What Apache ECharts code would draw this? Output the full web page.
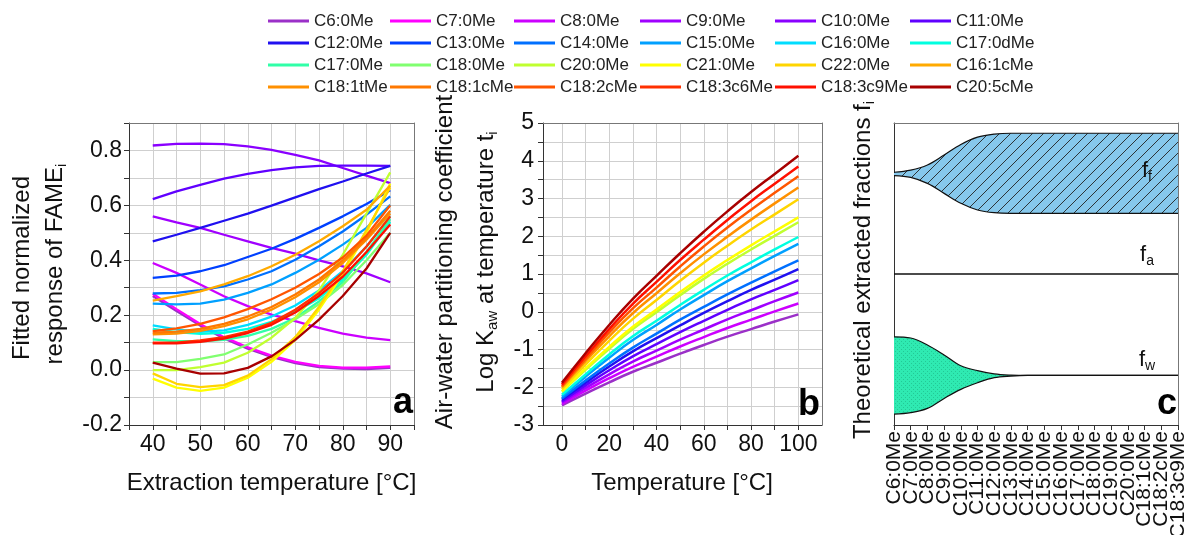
<!DOCTYPE html>
<html><head><meta charset="utf-8">
<script src="https://cdn.jsdelivr.net/npm/echarts@6/dist/echarts.min.js"></script>
<style>html,body{margin:0;padding:0;background:#fff}#c{width:1186px;height:535px}</style>
</head><body><div id="c"></div><script>
// ---------- data ----------
const names = ['C6:0Me','C7:0Me','C8:0Me','C9:0Me','C10:0Me','C11:0Me',
  'C12:0Me','C13:0Me','C14:0Me','C15:0Me','C16:0Me','C17:0dMe',
  'C17:0Me','C18:0Me','C20:0Me','C21:0Me','C22:0Me','C16:1cMe',
  'C18:1tMe','C18:1cMe','C18:2cMe','C18:3c6Me','C18:3c9Me','C20:5cMe'];
const colors = ['#9B30C8','#FF00FF','#CC00FF','#A000FF','#8A00FF','#6000FF',
  '#2010F0','#0040FF','#0070FF','#00A0FF','#00DDFF','#00FFE0',
  '#30FFA8','#80FF70','#C0FF30','#FFFF00','#FFD500','#FFAA00',
  '#FF9000','#FF7800','#FF5500','#FF3000','#FF1000','#A80000'];

// panel a: extraction temperature (°C)
const tempA = [40,45,50,55,60,65,70,75,80,85,90];
const A_C6   = [0.270,0.215,0.162,0.115,0.078,0.048,0.025,0.011,0.005,0.004,0.008];
const A_C7   = [0.278,0.222,0.168,0.120,0.083,0.053,0.030,0.015,0.009,0.009,0.013];
const A_C8   = [0.390,0.354,0.312,0.269,0.233,0.202,0.178,0.154,0.133,0.118,0.109];
const A_C9   = [0.560,0.538,0.518,0.493,0.469,0.445,0.424,0.400,0.378,0.352,0.320];
const A_C10  = [0.818,0.824,0.825,0.823,0.815,0.802,0.784,0.764,0.736,0.708,0.681];
const A_C11  = [0.623,0.651,0.675,0.697,0.715,0.728,0.738,0.744,0.745,0.745,0.744];
const A_C12  = [0.469,0.493,0.518,0.544,0.570,0.599,0.629,0.659,0.687,0.716,0.744];
const A_C13  = [0.336,0.344,0.360,0.382,0.412,0.442,0.478,0.518,0.560,0.605,0.655];
const A_C14  = [0.279,0.281,0.291,0.305,0.330,0.360,0.402,0.451,0.505,0.566,0.633];
const A_C15  = [0.242,0.239,0.242,0.257,0.281,0.312,0.354,0.402,0.457,0.518,0.602];
const A_C16  = [0.163,0.148,0.139,0.145,0.165,0.195,0.235,0.290,0.360,0.450,0.560];
const A_C17d = [0.150,0.138,0.132,0.136,0.150,0.176,0.212,0.262,0.330,0.420,0.540];
const A_C17  = [0.112,0.105,0.105,0.110,0.125,0.150,0.190,0.250,0.320,0.430,0.550];
const A_C18  = [0.029,0.029,0.041,0.057,0.093,0.136,0.185,0.240,0.310,0.400,0.500];
const A_C20  = [0.000,0.000,0.011,0.027,0.063,0.118,0.190,0.290,0.420,0.570,0.720];
const A_C21  = [-0.031,-0.064,-0.076,-0.064,-0.028,0.030,0.110,0.220,0.350,0.500,0.680];
const A_C22  = [-0.012,-0.050,-0.062,-0.055,-0.020,0.040,0.120,0.230,0.360,0.510,0.665];
const A_C161c = [0.253,0.269,0.287,0.312,0.342,0.378,0.420,0.469,0.524,0.584,0.672];
const A_C181t = [0.130,0.133,0.143,0.160,0.185,0.220,0.265,0.320,0.390,0.475,0.570];
const A_C181c = [0.136,0.140,0.150,0.168,0.195,0.230,0.275,0.330,0.400,0.480,0.580];
const A_C182c = [0.142,0.152,0.168,0.192,0.222,0.258,0.300,0.350,0.410,0.490,0.600];
const A_C183c6 = [0.100,0.100,0.108,0.120,0.140,0.172,0.220,0.280,0.355,0.450,0.560];
const A_C183c9 = [0.097,0.097,0.103,0.115,0.135,0.165,0.210,0.270,0.340,0.430,0.530];
const A_C205c = [0.027,0.005,-0.013,-0.012,0.008,0.050,0.110,0.184,0.270,0.370,0.500];
const respA = [A_C6,A_C7,A_C8,A_C9,A_C10,A_C11,A_C12,A_C13,A_C14,A_C15,A_C16,A_C17d,
  A_C17,A_C18,A_C20,A_C21,A_C22,A_C161c,A_C181t,A_C181c,A_C182c,A_C183c6,A_C183c9,A_C205c];
const ticksAx = [40,50,60,70,80,90];
const ticksAy = [-0.2,0,0.2,0.4,0.6,0.8];

// panel b: temperature (°C) vs log Kaw
const tempB = [0,10,20,30,40,50,60,70,80,90,100];
const B_C6    = [-2.48,-2.17,-1.87,-1.59,-1.35,-1.11,-0.88,-0.66,-0.46,-0.26,-0.07];
const B_C8    = [-2.44,-2.09,-1.76,-1.46,-1.19,-0.92,-0.67,-0.43,-0.21,0.01,0.22];
const B_C9    = [-2.40,-2.02,-1.66,-1.32,-1.03,-0.74,-0.47,-0.20,0.04,0.28,0.51];
const B_C11   = [-2.37,-1.95,-1.55,-1.18,-0.86,-0.54,-0.24,0.05,0.33,0.58,0.84];
const B_C12   = [-2.33,-1.88,-1.45,-1.05,-0.70,-0.36,-0.03,0.28,0.58,0.85,1.13];
const B_C14   = [-2.30,-1.82,-1.37,-0.95,-0.58,-0.21,0.13,0.46,0.77,1.07,1.36];
const B_C15   = [-2.25,-1.72,-1.22,-0.75,-0.35,0.06,0.44,0.81,1.15,1.48,1.80];
const B_C17d  = [-2.20,-1.66,-1.13,-0.65,-0.24,0.18,0.58,0.96,1.31,1.65,1.98];
const B_C20   = [-2.12,-1.54,-0.98,-0.46,-0.01,0.44,0.87,1.27,1.65,2.01,2.37];
const B_C21   = [-2.10,-1.50,-0.93,-0.40,0.06,0.52,0.96,1.37,1.76,2.13,2.50];
const B_C22   = [-2.05,-1.40,-0.77,-0.19,0.31,0.82,1.30,1.75,2.18,2.58,2.98];
const B_C181t = [-2.00,-1.31,-0.65,-0.04,0.49,1.02,1.52,1.99,2.44,2.87,3.29];
const B_C182c = [-1.97,-1.25,-0.55,0.09,0.64,1.20,1.73,2.23,2.70,3.15,3.59];
const B_C183c9 = [-1.93,-1.18,-0.46,0.21,0.79,1.37,1.91,2.43,2.93,3.39,3.85];
const B_C205c = [-1.88,-1.10,-0.35,0.34,0.95,1.55,2.12,2.66,3.17,3.65,4.13];
const kawB = {'C6:0Me':B_C6,'C8:0Me':B_C8,'C9:0Me':B_C9,'C11:0Me':B_C11,'C12:0Me':B_C12,
  'C14:0Me':B_C14,'C15:0Me':B_C15,'C17:0dMe':B_C17d,'C20:0Me':B_C20,'C21:0Me':B_C21,
  'C22:0Me':B_C22,'C18:1tMe':B_C181t,'C18:2cMe':B_C182c,'C18:3c9Me':B_C183c9,'C20:5cMe':B_C205c};
const ticksBx = [0,10,20,30,40,50,60,70,80,90,100];
const labelsBx = [0,20,40,60,80,100];
const ticksBy = [-3,-2,-1,0,1,2,3,4,5];

// panel c: theoretical fractions
const catsC = ['C6:0Me','C7:0Me','C8:0Me','C9:0Me','C10:0Me','C11:0Me','C12:0Me','C13:0Me',
  'C14:0Me','C15:0Me','C16:0Me','C17:0Me','C18:0Me','C19:0Me','C20:0Me','C18:1cMe','C18:2cMe','C18:3c9Me'];
const ffTop    = [0.837,0.844,0.861,0.894,0.929,0.953,0.963,0.966,0.966,0.966,0.966,0.966,0.966,0.966,0.966,0.966,0.966,0.966];
const ffBottom = [0.826,0.820,0.800,0.767,0.734,0.712,0.703,0.701,0.701,0.701,0.701,0.701,0.701,0.701,0.701,0.701,0.701,0.701];
const faLine   = [0.5,0.5,0.5,0.5,0.5,0.5,0.5,0.5,0.5,0.5,0.5,0.5,0.5,0.5,0.5,0.5,0.5,0.5];
const fwTop    = [0.292,0.288,0.265,0.232,0.196,0.180,0.169,0.165,0.164,0.164,0.164,0.164,0.164,0.164,0.164,0.164,0.164,0.164];
const fwBottom = [0.036,0.041,0.055,0.088,0.118,0.140,0.157,0.162,0.164,0.164,0.164,0.164,0.164,0.164,0.164,0.164,0.164,0.164];

// ---------- chart ----------
const FF = '"Liberation Sans", Arial, sans-serif';
const TXT = '#111';
function makeHatch(){
  const c=document.createElement('canvas'); c.width=11; c.height=11;
  const g=c.getContext('2d'); g.fillStyle='#86C8EC'; g.fillRect(0,0,11,11);
  g.strokeStyle='#222'; g.lineWidth=0.9; g.beginPath();
  g.moveTo(-1,12); g.lineTo(12,-1); g.moveTo(-1,1); g.lineTo(1,-1); g.moveTo(10,12); g.lineTo(12,10);
  g.stroke(); return c;
}
function makeDots(){
  const c=document.createElement('canvas'); c.width=4; c.height=4;
  const g=c.getContext('2d'); g.fillStyle='#2FEAB2'; g.fillRect(0,0,4,4);
  g.fillStyle='#23C996'; g.fillRect(1,1,1,1); g.fillRect(3,3,1,1); return c;
}
const colLeft = [268,390,514,640,775,910];
const legends = colLeft.map((l,ci)=>({
  orient:'vertical', left:l, top:10, padding:0, itemGap:0, itemWidth:41, itemHeight:3, icon:'rect',
  textStyle:{fontSize:17, fontFamily:FF, color:'#222', lineHeight:22},
  data:[names[ci],names[ci+6],names[ci+12],names[ci+18]]
}));
function gridLine(){ return {show:true, lineStyle:{color:'#cfcfcf', width:1}}; }
function axLine(){ return {show:true, onZero:false, lineStyle:{color:'#333', width:1}}; }
function tick(extra){ return Object.assign({show:true, length:5, inside:false, lineStyle:{color:'#333'}}, extra||{}); }
function lab(extra){ return Object.assign({fontSize:23, fontFamily:FF, color:TXT}, extra||{}); }
function frameX(gi){ return {gridIndex:gi, type:'value', position:'top', min:0, max:1,
  axisLine:{show:true, onZero:false, lineStyle:{color:'#777', width:1}}, axisTick:{show:false},
  axisLabel:{show:false}, splitLine:{show:false}}; }
function frameY(gi){ return {gridIndex:gi, type:'value', position:'right', min:0, max:1,
  axisLine:{show:true, onZero:false, lineStyle:{color:'#777', width:1}}, axisTick:{show:false},
  axisLabel:{show:false}, splitLine:{show:false}}; }

const series = [];
names.forEach((n,i)=>{
  series.push({name:n, type:'line', xAxisIndex:0, yAxisIndex:0, symbol:'none', smooth:false,
    data: tempA.map((t,j)=>[t, respA[i][j]]), lineStyle:{color:colors[i], width:2.3}, itemStyle:{color:colors[i]}});
});
names.forEach((n,i)=>{
  if(!kawB[n]) return;
  series.push({name:n, type:'line', xAxisIndex:1, yAxisIndex:1, symbol:'none', smooth:true,
    data: tempB.map((t,j)=>[t, kawB[n][j]]), lineStyle:{color:colors[i], width:2.5}, itemStyle:{color:colors[i]}});
});
const blk = {color:'#111', width:1.2};
series.push(
  {name:'ff_base', type:'line', xAxisIndex:2, yAxisIndex:2, stack:'ff', symbol:'none', smooth:0.35, data: ffBottom, lineStyle:blk, z:3},
  {name:'ff_band', type:'line', xAxisIndex:2, yAxisIndex:2, stack:'ff', symbol:'none', smooth:0.35,
   data: ffTop.map((v,j)=>+(v-ffBottom[j]).toFixed(4)), lineStyle:blk, z:3, areaStyle:{color:{image:makeHatch(), repeat:'repeat'}, opacity:1}},
  {name:'fa', type:'line', xAxisIndex:2, yAxisIndex:2, symbol:'none', data: faLine, lineStyle:{color:'#111', width:1.5}, z:3},
  {name:'fw_base', type:'line', xAxisIndex:2, yAxisIndex:2, stack:'fw', symbol:'none', smooth:0.35, data: fwBottom, lineStyle:blk, z:3},
  {name:'fw_band', type:'line', xAxisIndex:2, yAxisIndex:2, stack:'fw', symbol:'none', smooth:0.35,
   data: fwTop.map((v,j)=>+(v-fwBottom[j]).toFixed(4)), lineStyle:blk, z:3, areaStyle:{color:{image:makeDots(), repeat:'repeat'}, opacity:1}}
);
function rt(x,y,text,size){
  return {type:'text', x:x, y:y, rotation:Math.PI/2, z:10,
    style:{text:text, fontSize:size||24, fontFamily:FF, fill:TXT, align:'center', verticalAlign:'middle',
      rich:{m:{fontSize:size||24, fontFamily:FF, fill:TXT, lineHeight:28},
            s:{fontSize:15, fontFamily:FF, fill:TXT, lineHeight:15, verticalAlign:'bottom'}}}};
}
function ht(x,y,text,size){
  return {type:'text', x:x, y:y, z:10,
    style:{text:text, fontSize:size||24, fontFamily:FF, fill:TXT, align:'center', verticalAlign:'middle',
      rich:{m:{fontSize:size||24, fontFamily:FF, fill:TXT, lineHeight:26},
            s:{fontSize:14, fontFamily:FF, fill:TXT, lineHeight:14, verticalAlign:'bottom'}}}};
}
function letter(x,y,t){
  return {type:'text', x:x, y:y, z:10, style:{text:t, fontSize:36, fontWeight:'bold', fontFamily:FF,
    fill:'#000', align:'right', verticalAlign:'middle'}};
}
const option = {
  animation:false,
  legend: legends,
  grid:[
    {left:129, top:123, width:285, height:302, show:false, outerBoundsMode:'none'},
    {left:543, top:123, width:279, height:302, show:false, outerBoundsMode:'none'},
    {left:894, top:123, width:284, height:302, show:false, outerBoundsMode:'none'}
  ],
  xAxis:[
    {gridIndex:0, type:'value', min:35, max:95, interval:5, axisLine:axLine(), axisTick:tick(),
     axisLabel:lab({margin:8, customValues:ticksAx}), splitLine:gridLine()},
    {gridIndex:1, type:'value', min:-8, max:110, axisLine:axLine(), axisTick:tick({customValues:ticksBx}),
     axisLabel:lab({margin:8, customValues:labelsBx}), splitLine:gridLine()},
    {gridIndex:2, type:'category', data:catsC, boundaryGap:false, axisLine:axLine(),
     axisTick:tick({alignWithLabel:true, interval:0}),
     axisLabel:{rotate:90, interval:0, fontSize:21, fontFamily:FF, color:TXT, margin:6}, splitLine:{show:false}},
    frameX(0), frameX(1), frameX(2)
  ],
  yAxis:[
    {gridIndex:0, type:'value', min:-0.2, max:0.9, interval:0.1, axisLine:axLine(), axisTick:tick(),
     axisLabel:lab({margin:7, customValues:ticksAy, formatter:v=>Number(v).toFixed(1)}), splitLine:gridLine()},
    {gridIndex:1, type:'value', min:-3, max:5, interval:0.5, axisLine:axLine(), axisTick:tick(),
     axisLabel:lab({margin:9, customValues:ticksBy}), splitLine:gridLine()},
    {gridIndex:2, type:'value', min:0, max:1, axisLine:axLine(), axisTick:{show:false}, axisLabel:{show:false}, splitLine:{show:false}},
    frameY(0), frameY(1), frameY(2)
  ],
  series: series,
  graphic:[
    rt(22,268,'Fitted normalized',24),
    rt(55,264,'{m|response of FAME}{s|i}',24),
    rt(445,262,'Air-water partitioning coefficient',24),
    rt(486,262,'{m|Log K}{s|aw}{m| at temperature t}{s|i}',24),
    rt(863,270,'{m|Theoretical extracted fractions f}{s|i}',24),
    {type:'text', x:271.5, y:483, z:10, style:{text:'Extraction temperature [°C]', fontSize:24, fontFamily:FF, fill:TXT, align:'center', verticalAlign:'middle'}},
    {type:'text', x:682, y:483, z:10, style:{text:'Temperature [°C]', fontSize:24, fontFamily:FF, fill:TXT, align:'center', verticalAlign:'middle'}},
    ht(1147,171,'{m|f}{s|f}',22),
    ht(1147,255,'{m|f}{s|a}',22),
    ht(1147,360,'{m|f}{s|w}',22),
    letter(413,403,'a'), letter(820,405,'b'), letter(1177,404,'c')
  ]
};
const chart = echarts.init(document.getElementById('c'), null, {renderer:'canvas'});
chart.setOption(option);
</script></body></html>
